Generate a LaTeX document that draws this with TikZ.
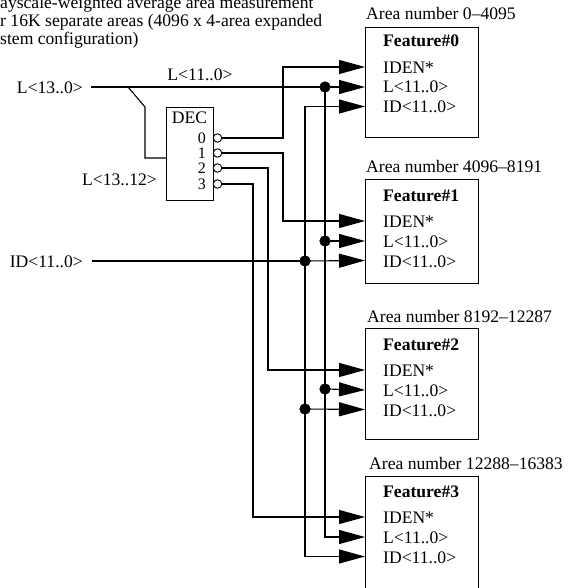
\documentclass[tikz,border=0pt]{standalone}
\usepackage{fontspec}
\setmainfont{Liberation Serif}
\usetikzlibrary{arrows.meta}
\begin{document}
\begin{tikzpicture}[x=1pt,y=-1pt,
  wire/.style={line width=1.1pt},
  arr/.style={wire,-{Triangle[length=26pt,width=14pt]}},
  joint/.style={circle,fill,inner sep=0pt,minimum size=11pt},
  bubble/.style={circle,draw,fill=white,inner sep=0pt,minimum size=8.5pt,line width=0.9pt},
  txt/.style={font=\fontsize{17.6}{20}\selectfont,inner sep=0pt},
  digit/.style={font=\fontsize{16}{16}\selectfont,inner sep=0pt,anchor=base east},
  fbox/.style={draw,line width=1.1pt,inner sep=0pt,anchor=north west,minimum width=113pt}
]
\useasboundingbox (0,0) rectangle (567,588);
\clip (0,0) rectangle (567,588);

% title
\node[txt,anchor=base west] (t1) at (0,9) {ayscale-weighted average area measurement};
\node[txt,anchor=base west] (t2) at (0,27) {r 16K separate areas (4096 x 4-area expanded};
\node[txt,anchor=base west] (t3) at (0,44.5) {stem configuration)};

% feature boxes
\node[fbox,minimum height=110pt] (f0) at (365,27) {};
\node[fbox,minimum height=104pt] (f1) at (365,179) {};
\node[fbox,minimum height=111pt] (f2) at (365,328) {};
\node[fbox,minimum height=130pt] (f3) at (365,476) {};

\node[txt,anchor=base west] (a0) at (366,20) {Area number 0–4095};
\node[txt,anchor=base west] (a1) at (366,172) {Area number 4096–8191};
\node[txt,anchor=base west] (a2) at (367,322) {Area number 8192–12287};
\node[txt,anchor=base west] (a3) at (369,469) {Area number 12288–16383};

% box contents and ports
\foreach \k/\r in {0/67,1/221,2/370,3/517}{
  \node[txt,anchor=base west,font=\fontsize{17.6}{20}\selectfont\bfseries] (h\k) at (383,\r-20) {Feature\#\k};
  \node[txt,anchor=base west] (i\k) at (383,\r+6.5) {IDEN*};
  \node[txt,anchor=base west] (l\k) at (383,\r+26) {L<11..0>};
  \node[txt,anchor=base west] (d\k) at (383,\r+46) {ID<11..0>};
  \coordinate (pi\k) at (365,\r);
  \coordinate (pl\k) at (365,\r+20);
  \coordinate (pd\k) at (365,\r+39.5);
}

% DEC
\node[draw,line width=1.1pt,inner sep=0pt,anchor=north west,minimum width=47pt,minimum height=93pt] (dec) at (166,107) {};
\node[txt,anchor=base] (decl) at (189.5,123.5) {DEC};
\foreach \k/\r in {0/138,1/153,2/168,3/184}{
  \node[digit] (n\k) at (206,\r+5.5) {\k};
  \node[bubble] (b\k) at (217.5,\r) {};
}

% inputs
\node[txt,anchor=base east] (lin) at (83,93.5) {L<13..0>};
\node[txt,anchor=base] (l110) at (200,81) {L<11..0>};
\node[txt,anchor=base east] (l1312) at (157,185) {L<13..12>};
\node[txt,anchor=base east] (idin) at (83,267) {ID<11..0>};

\coordinate (ls) at (91,87);
\coordinate (ids) at (92,261);
\coordinate (br) at (128,87);

% L bus
\draw[arr] (ls) -- (pl0);
\draw[wire] (br) -- (145,107) -- (145,158) -- (dec.west |- 0,158);
\node[joint] (jl0) at (325,87) {};
\node[joint] (jl1) at (325,241) {};
\node[joint] (jl2) at (325,389) {};
\draw[wire] (jl0.center) -- (jl1.center) -- (jl2.center);
\draw[arr] (jl1.center) -- (pl1);
\draw[arr] (jl2.center) -- (pl2);
\draw[arr] (jl2.center) |- (pl3);

% ID bus
\node[joint] (jd1) at (305,261) {};
\node[joint] (jd2) at (305,409) {};
\draw[wire] (ids) -- (jd1.center);
\draw[arr] (jd1.center) -- (pd1);
\draw[arr] (jd1.center) |- (pd0);
\draw[wire] (jd1.center) -- (jd2.center);
\draw[arr] (jd2.center) -- (pd2);
\draw[arr] (jd2.center) |- (pd3);

% decoder outputs
\draw[arr] (b0.east) -- (283,138) |- (pi0);
\draw[arr] (b1.east) -- (283,153) |- (pi1);
\draw[arr] (b2.east) -- (268,168) |- (pi2);
\draw[arr] (b3.east) -- (253,184) |- (pi3);

% redraw dots on top
\foreach \n in {jl0,jl1,jl2,jd1,jd2}{\fill (\n) circle (5.5pt);}
\end{tikzpicture}
\end{document}
